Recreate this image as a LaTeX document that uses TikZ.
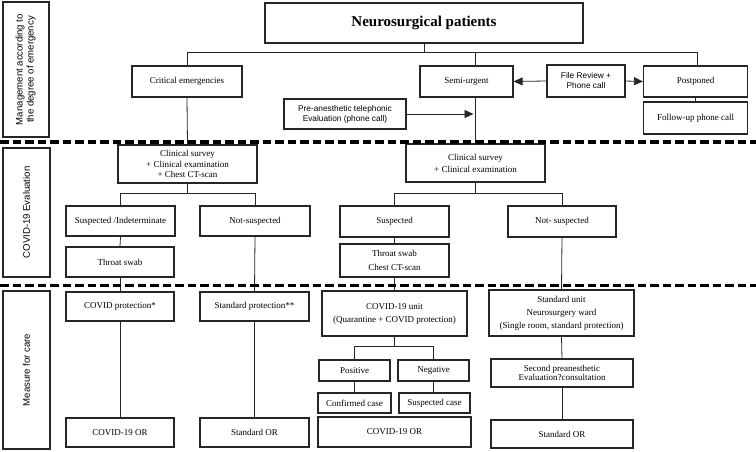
\documentclass[tikz,border=0pt]{standalone}
\usepackage{fontspec}
\setmainfont{Liberation Serif}
\setsansfont{Liberation Sans}
\usetikzlibrary{arrows.meta,calc}
\begin{document}
\begin{tikzpicture}[x=1pt,y=-1pt,
  box/.style={draw=black!85, line width=1.2pt, inner sep=1pt, align=center,
    font=\fontsize{9}{10.5}\selectfont, anchor=center},
  sbox/.style={box, font=\sffamily\fontsize{8.3}{10}\selectfont},
  lab/.style={draw=black!85, line width=1.4pt, inner sep=0pt, align=center,
    font=\sffamily\fontsize{9.6}{11}\selectfont},
  conn/.style={draw=black!85, line width=0.8pt},
  arr/.style={conn, -{Triangle[length=9pt,width=8pt]}},
  sep/.style={draw=black, line width=3pt, dash pattern=on 8.5pt off 4pt}
]
\useasboundingbox (0,0) rectangle (756,452);

% left labels
\node[lab, minimum width=46pt, minimum height=135pt] (lab1) at (26,69.5)
  {\rotatebox{90}{\begin{tabular}{@{}c@{}}Management according to\\the degree of emergency\end{tabular}}};
\node[lab, minimum width=47pt, minimum height=129pt] (lab2) at (26.5,212.5)
  {\rotatebox{90}{COVID-19 Evaluation}};
\node[lab, minimum width=47pt, minimum height=158pt] (lab3) at (26.5,370)
  {\rotatebox{90}{Measure for care}};

% separators
\coordinate (s1a) at (0,142); \coordinate (s1b) at (756,142);
\coordinate (s2a) at (0,285); \coordinate (s2b) at (756,285);

% top row
\node[box, minimum width=318pt, minimum height=40pt, font=\bfseries\fontsize{15}{17}\selectfont] (title) at (424,23) {Neurosurgical patients};
\node[box, minimum width=110pt, minimum height=31pt] (crit) at (187,81.5) {Critical emergencies};
\node[box, minimum width=93pt, minimum height=31pt] (semi) at (466.5,81.5) {Semi-urgent};
\node[sbox, minimum width=78pt, minimum height=32pt] (filerev) at (586,81) {File Review +\\Phone call};
\node[box, minimum width=104pt, minimum height=31pt] (postp) at (695.5,81.5) {Postponed};
\node[box, minimum width=104pt, minimum height=32pt] (follow) at (695.5,118) {Follow-up phone call};
\node[sbox, minimum width=122pt, minimum height=30pt] (pre) at (345,114) {Pre-anesthetic telephonic\\Evaluation (phone call)};

% evaluation row
\node[box, minimum width=139pt, minimum height=38pt] (cs1) at (187.5,164) {Clinical survey\\+ Clinical examination\\+ Chest CT-scan};
\node[box, minimum width=139pt, minimum height=38pt] (cs2) at (475.5,163) {Clinical survey\\[1.5pt]+ Clinical examination};
\node[box, minimum width=109pt, minimum height=30pt] (susp1) at (120.5,221) {Suspected /Indeterminate};
\node[box, minimum width=110pt, minimum height=30pt] (nsusp1) at (255,221) {Not-suspected};
\node[box, minimum width=108pt, minimum height=30pt] (throat1) at (120,262) {Throat swab};
\node[box, minimum width=109pt, minimum height=31pt] (susp2) at (394.5,221.5) {Suspected};
\node[box, minimum width=108pt, minimum height=31pt] (nsusp2) at (562,221.5) {Not- suspected};
\node[box, minimum width=109pt, minimum height=33pt] (throat2) at (394.5,260.5) {Throat swab\\[3pt]Chest CT-scan};

% care row
\node[box, minimum width=108pt, minimum height=29pt] (covprot) at (120,306.5) {COVID protection*};
\node[box, minimum width=109pt, minimum height=29pt] (stdprot) at (254.5,306.5) {Standard protection**};
\node[box, minimum width=145pt, minimum height=45pt] (covunit) at (394.5,313.5) {COVID-19 unit\\[2.5pt](Quarantine + COVID protection)};
\node[box, minimum width=145pt, minimum height=46pt] (stdunit) at (561.5,313) {Standard unit\\[2.5pt]Neurosurgery ward\\[2.5pt](Single room, standard protection)};
\node[box, minimum width=71pt, minimum height=21pt] (pos) at (354.5,370.5) {Positive};
\node[box, minimum width=71pt, minimum height=21pt] (neg) at (433.5,370.5) {Negative};
\node[box, minimum width=73pt, minimum height=20pt] (conf) at (354.5,403) {Confirmed case};
\node[box, minimum width=71pt, minimum height=20pt] (suspc) at (434.5,403) {Suspected case};
\node[box, minimum width=153pt, minimum height=30pt] (cor2) at (394.5,432) {COVID-19 OR};
\node[box, minimum width=142pt, minimum height=28pt, font=\fontsize{9}{9.5}\selectfont] (second) at (562,373) {Second preanesthetic\\Evaluation?consultation};
\node[box, minimum width=142pt, minimum height=28pt] (sor2) at (562,434) {Standard OR};
\node[box, minimum width=108pt, minimum height=29pt] (cor1) at (120,432.5) {COVID-19 OR};
\node[box, minimum width=109pt, minimum height=29pt] (sor1) at (254.5,432.5) {Standard OR};

% connectors: top
\coordinate (tb) at ($(title.south)+(0,9)$);
\draw[conn] (title.south) -- (tb);
\draw[conn] (crit.north) -- (crit.north |- tb) -- ($(postp.north |- tb)+(2,0)$) -- ($(postp.north)+(2,0)$);
\draw[conn] (cs2.north |- tb) -- (cs2.north |- semi.north);
\draw[conn] (cs2.north |- semi.south) -- (cs2.north);
\draw[conn] (crit.south) -- (cs1.north);
\draw[arr] (filerev.west) -- (semi.east);
\draw[arr] (filerev.east) -- (postp.west);
\draw[conn] (postp.south) -- (follow.north);
\draw[arr, shorten >=2pt] (pre.east) -- (pre.east -| cs2.north);

% evaluation branches
\coordinate (b1) at ($(cs1.south)+(0,10)$);
\draw[conn] (cs1.south) -- (b1);
\draw[conn] (susp1.north) -- (susp1.north |- b1) -- (nsusp1.north |- b1) -- (nsusp1.north);
\draw[conn] (susp1.south) -- (throat1.north);
\draw[conn] (throat1.south) -- (covprot.north);
\draw[conn] (covprot.south) -- (cor1.north);
\draw[conn] (nsusp1.south) -- (stdprot.north);
\draw[conn] (stdprot.south) -- (sor1.north);

\coordinate (b2) at ($(cs2.south)+(0,11)$);
\draw[conn] (cs2.south) -- (b2);
\draw[conn] (susp2.north) -- (susp2.north |- b2) -- (nsusp2.north |- b2) -- (nsusp2.north);
\draw[conn] (susp2.south) -- (throat2.north);
\draw[conn] (throat2.south) -- (covunit.north);
\draw[conn] (nsusp2.south) -- (stdunit.north);
\draw[conn] (stdunit.south) -- (second.north);
\draw[conn] (second.south) -- (sor2.north);

\coordinate (b3) at ($(covunit.south)+(0,9.5)$);
\draw[conn] (covunit.south) -- (b3);
\draw[conn] (pos.north) -- (pos.north |- b3) -- (neg.north |- b3) -- (neg.north);
\draw[conn] (pos.south) -- (conf.north);
\draw[conn] (neg.south) -- (neg.south |- suspc.north);

% separators drawn last (on top)
\draw[sep] (s1a) -- (s1b);
\draw[sep] (s2a) -- (s2b);
\end{tikzpicture}
\end{document}
